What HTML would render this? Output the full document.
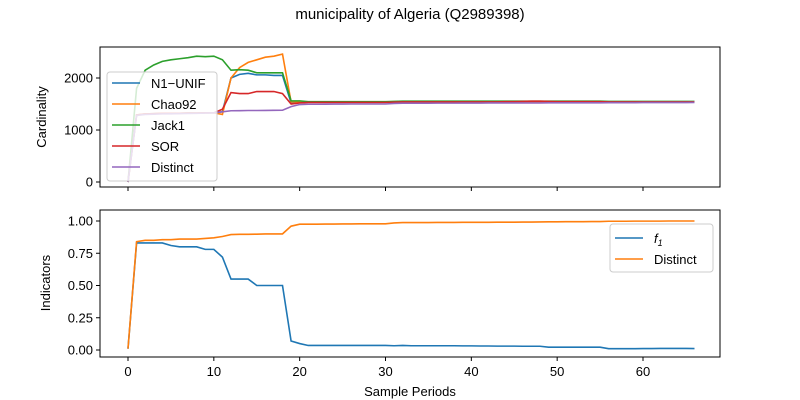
<!DOCTYPE html>
<html><head><meta charset="utf-8"><style>
body{margin:0;background:#fff;}
svg{display:block;font-family:"Liberation Sans","DejaVu Sans",sans-serif;}
</style></head><body>
<svg id="c" width="800" height="400" xmlns="http://www.w3.org/2000/svg"></svg>
<script>
const xs = Array.from({length:67},(_,i)=>i);
const jack1 = [0,1800,2150,2250,2320,2350,2370,2390,2420,2410,2420,2350,2150,2160,2150,2100,2100,2100,2100,1560,1560,1545,1545,1545,1545,1545,1545,1545,1545,1545,1545,1550,1555,1555,1555,1555,1555,1555,1555,1555,1555,1555,1555,1555,1555,1555,1555,1555,1555,1555,1555,1555,1555,1555,1555,1555,1550,1550,1550,1550,1550,1550,1550,1550,1550,1550,1550];
const n1unif = [0,1290,1310,1315,1320,1320,1320,1325,1325,1330,1330,1350,2000,2070,2090,2060,2060,2050,2050,1520,1530,1535,1535,1535,1535,1535,1535,1535,1535,1535,1535,1540,1545,1545,1545,1545,1545,1545,1545,1545,1545,1545,1545,1545,1545,1545,1545,1545,1545,1545,1545,1545,1545,1545,1545,1545,1540,1540,1540,1540,1540,1540,1540,1540,1540,1540,1540];
const chao92 = [0,1290,1310,1315,1320,1320,1320,1325,1325,1330,1330,1300,2000,2200,2300,2350,2400,2420,2460,1540,1545,1540,1540,1540,1540,1540,1540,1540,1540,1540,1540,1545,1545,1545,1545,1545,1545,1545,1545,1545,1545,1545,1545,1545,1545,1545,1545,1545,1545,1545,1545,1545,1545,1545,1545,1545,1540,1540,1540,1540,1540,1540,1540,1540,1540,1540,1540];
const sor = [0,1290,1310,1315,1320,1320,1320,1325,1325,1330,1330,1400,1720,1700,1700,1740,1740,1740,1700,1500,1520,1530,1530,1530,1530,1530,1530,1530,1530,1530,1530,1535,1540,1540,1540,1540,1540,1540,1540,1540,1540,1540,1540,1540,1545,1545,1550,1555,1555,1550,1545,1545,1545,1545,1545,1545,1540,1540,1540,1540,1540,1540,1540,1540,1540,1540,1540];
const distinct = [0,1280,1300,1305,1310,1312,1315,1318,1320,1325,1330,1350,1370,1372,1375,1375,1377,1378,1380,1450,1490,1495,1495,1497,1498,1498,1500,1500,1500,1500,1500,1510,1515,1515,1515,1515,1517,1517,1517,1518,1518,1518,1520,1520,1520,1520,1520,1520,1520,1522,1522,1522,1522,1523,1523,1523,1525,1525,1525,1525,1527,1527,1527,1528,1528,1528,1530];
const f1 = [0.01,0.83,0.83,0.83,0.83,0.81,0.80,0.80,0.80,0.78,0.78,0.72,0.55,0.55,0.55,0.50,0.50,0.50,0.50,0.07,0.05,0.035,0.035,0.035,0.035,0.035,0.035,0.035,0.035,0.035,0.035,0.033,0.035,0.033,0.033,0.033,0.033,0.033,0.033,0.032,0.032,0.031,0.031,0.030,0.030,0.030,0.029,0.029,0.029,0.022,0.022,0.022,0.022,0.022,0.022,0.022,0.01,0.01,0.01,0.01,0.011,0.011,0.012,0.012,0.012,0.012,0.011];
const distinctRatio = [0.01,0.84,0.85,0.85,0.855,0.855,0.86,0.86,0.86,0.865,0.87,0.88,0.895,0.897,0.897,0.898,0.9,0.9,0.9,0.96,0.975,0.975,0.975,0.976,0.976,0.977,0.977,0.978,0.978,0.978,0.978,0.985,0.988,0.988,0.988,0.988,0.989,0.989,0.989,0.99,0.99,0.99,0.99,0.991,0.991,0.991,0.992,0.992,0.993,0.994,0.994,0.995,0.995,0.995,0.996,0.996,0.998,0.998,0.998,0.999,0.999,0.999,0.999,1.0,1.0,1.0,1.0];
const xTicks = [0,10,20,30,40,50,60];
const topTicks = [0,1000,2000];
const botTicks = [0,0.25,0.5,0.75,1.0];
const botTickLabels = ["0.00","0.25","0.50","0.75","1.00"];

const svg = document.getElementById('c');
const NS = 'http://www.w3.org/2000/svg';
function el(tag, attrs, parent){const e=document.createElementNS(NS,tag);for(const k in attrs)e.setAttribute(k,attrs[k]);(parent||svg).appendChild(e);return e;}
const L=100,R=720;
const X = v => 128 + v*(643-128)/60;
const Yt = v => 182 - v*(182-78)/2000;
const Yb = v => 350 - v*(350-221);

function axes(top,bot,name){
  const r=el('rect',{x:L,y:top,width:R-L,height:bot-top,fill:'none',stroke:'#000','stroke-width':1});
  
  
  xTicks.forEach(t=>{el('line',{x1:X(t),x2:X(t),y1:bot,y2:bot+4,stroke:'#000'});});
}
function line(data,Y,color,name){
  const p=el('polyline',{points:data.map((v,i)=>X(xs[i])+','+Y(v)).join(' '),fill:'none',stroke:color,'stroke-width':1.6});
  
  
}
function text(x,y,s,attrs,name){const t=el('text',Object.assign({x:x,y:y,'font-size':13,fill:'#000'},attrs||{}));t.textContent=s;return t;}

text(410,19,'municipality of Algeria (Q2989398)',{'text-anchor':'middle','font-size':15},'chart-title');

// top
axes(47,187,'top-axes');
topTicks.forEach(t=>{el('line',{x1:L-4,x2:L,y1:Yt(t),y2:Yt(t),stroke:'#000'});text(L-7,Yt(t)+4.5,String(t),{'text-anchor':'end'},'y-tick-top');});
text(46,117,'Cardinality',{'text-anchor':'middle',transform:'rotate(-90 46 117)'},'y-axis-title-top');
line(n1unif,Yt,'#1f77b4','series-n1-unif');
line(chao92,Yt,'#ff7f0e','series-chao92');
line(jack1,Yt,'#2ca02c','series-jack1');
line(sor,Yt,'#d62728','series-sor');
line(distinct,Yt,'#9467bd','series-distinct');
const lg=el('rect',{x:107,y:72,width:110,height:109,rx:3,fill:'#fff','fill-opacity':0.8,stroke:'#ccc'});


[['N1\u2212UNIF','#1f77b4'],['Chao92','#ff7f0e'],['Jack1','#2ca02c'],['SOR','#d62728'],['Distinct','#9467bd']].forEach((d,i)=>{
  const y=83+i*21;
  el('line',{x1:112,x2:140,y1:y,y2:y,stroke:d[1],'stroke-width':1.6});
  text(151,y+5,d[0],{},'legend-entry');
});

// bottom
axes(210,357,'bottom-axes');
botTicks.forEach((t,i)=>{el('line',{x1:L-4,x2:L,y1:Yb(t),y2:Yb(t),stroke:'#000'});text(L-7,Yb(t)+4.5,botTickLabels[i],{'text-anchor':'end'},'y-tick-bottom');});
text(50,283,'Indicators',{'text-anchor':'middle',transform:'rotate(-90 50 283)'},'y-axis-title-bottom');
line(f1,Yb,'#1f77b4','series-f1');
line(distinctRatio,Yb,'#ff7f0e','series-distinct-ratio');
xTicks.forEach(t=>text(X(t),376,String(t),{'text-anchor':'middle'},'x-tick'));
text(410,396,'Sample Periods',{'text-anchor':'middle'},'x-axis-title');
const lg2=el('rect',{x:610,y:224,width:103,height:48,rx:3,fill:'#fff','fill-opacity':0.8,stroke:'#ccc'});


el('line',{x1:615,x2:643,y1:238,y2:238,stroke:'#1f77b4','stroke-width':1.6});
const ft=text(654,243,'f',{'font-style':'italic'},'legend-entry');
const sub=el('tspan',{'font-size':9,dy:3});sub.textContent='1';ft.appendChild(sub);
el('line',{x1:615,x2:643,y1:259,y2:259,stroke:'#ff7f0e','stroke-width':1.6});
text(654,264,'Distinct',{},'legend-entry');
</script>
</body></html>
